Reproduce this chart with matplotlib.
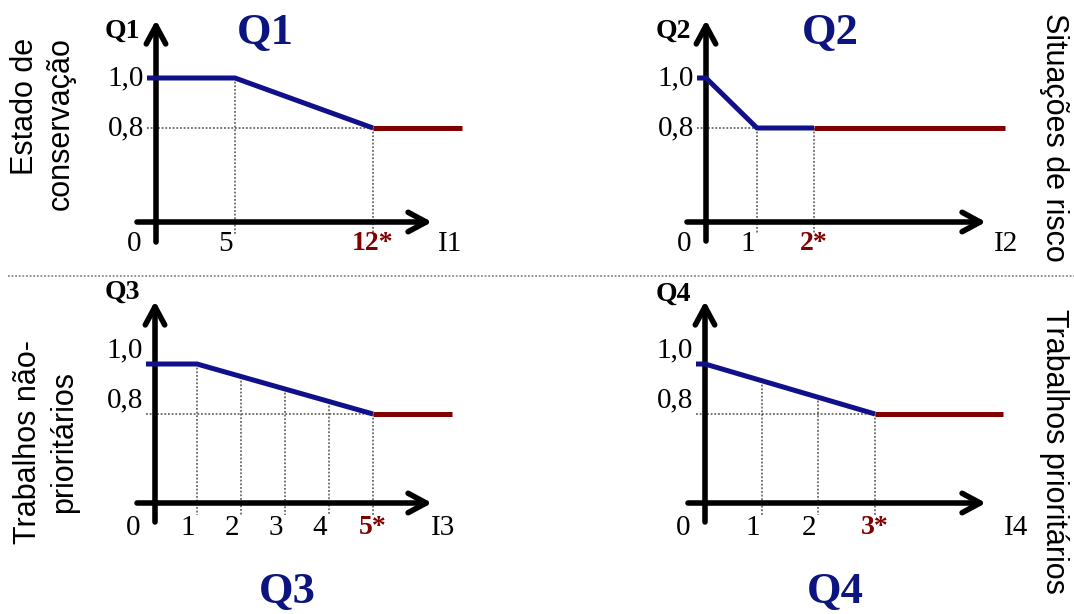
import numpy as np
import matplotlib
matplotlib.use("Agg")
import matplotlib.pyplot as plt
from matplotlib.lines import Line2D

# ---------------- data ----------------
I1_blue = [0, 5, 12]
Q1_blue = [1.0, 1.0, 0.8]
I1_red = [12, 16.5]
Q1_red = [0.8, 0.8]
I1_ticks = [5, 12]
I1_ticklabels = ["5", "12*"]

I2_blue = [0, 1, 2]
Q2_blue = [1.0, 0.8, 0.8]
I2_red = [2, 5.35]
Q2_red = [0.8, 0.8]
I2_ticks = [1, 2]
I2_ticklabels = ["1", "2*"]

I3_blue = [0, 1, 5]
Q3_blue = [1.0, 1.0, 0.8]
I3_red = [5, 6.8]
Q3_red = [0.8, 0.8]
I3_ticks = [1, 2, 3, 4, 5]
I3_ticklabels = ["1", "2", "3", "4", "5*"]

I4_blue = [0, 3]
Q4_blue = [1.0, 0.8]
I4_red = [3, 5.25]
Q4_red = [0.8, 0.8]
I4_ticks = [1, 2, 3]
I4_ticklabels = ["1", "2", "3*"]

y_ticks = [1.0, 0.8]
y_ticklabels = ["1,0", "0,8"]

panel_names = ["Q1", "Q2", "Q3", "Q4"]
x_names = ["I1", "I2", "I3", "I4"]

# ---------------- style ----------------
BLUE = "#10108a"
TITLE = "#0c1480"
RED = "#800000"
GREY = "#505050"
SERIF = ["Liberation Serif", "DejaVu Serif"]
SANS = ["Liberation Sans", "DejaVu Sans"]

W, H = 1074, 614
fig = plt.figure(figsize=(W / 100, H / 100), dpi=100)

# geometry per panel (pixels); schematic (piecewise) horizontal scale knots
geo = [
    dict(kv=[0, 5, 12], kp=[156, 235, 373], y08=128, xax=222, xl=137, xt=432,
         yt=20, yb=242, lab_y=244, ylab_dy=0, name_xy=(122, 31), xname_x=450,
         title_xy=(265, 33)),
    dict(kv=[0, 1, 2], kp=[706, 757, 814], y08=128, xax=222, xl=687, xt=986,
         yt=20, yb=241, lab_y=244, ylab_dy=0, name_xy=(673, 31), xname_x=1006,
         title_xy=(830, 33)),
    dict(kv=[0, 1, 5], kp=[155, 197, 373], y08=414, xax=503, xl=137, xt=432,
         yt=301, yb=522, lab_y=528, ylab_dy=-14, name_xy=(122, 292), xname_x=443,
         title_xy=(287, 592)),
    dict(kv=[0, 3], kp=[705, 875], y08=414, xax=503, xl=688, xt=986,
         yt=301, yb=522, lab_y=528, ylab_dy=-14, name_xy=(673, 294), xname_x=1016,
         title_xy=(835, 592)),
]

series = [
    (I1_blue, Q1_blue, I1_red, Q1_red, I1_ticks, I1_ticklabels),
    (I2_blue, Q2_blue, I2_red, Q2_red, I2_ticks, I2_ticklabels),
    (I3_blue, Q3_blue, I3_red, Q3_red, I3_ticks, I3_ticklabels),
    (I4_blue, Q4_blue, I4_red, Q4_red, I4_ticks, I4_ticklabels),
]


def make_maps(kv, kp):
    kv = np.asarray(kv, float)
    kp = np.asarray(kp, float)
    s0 = (kp[1] - kp[0]) / (kv[1] - kv[0])
    s1 = (kp[-1] - kp[-2]) / (kv[-1] - kv[-2])

    def fwd(x):
        x = np.asarray(x, float)
        y = np.interp(x, kv, kp)
        y = np.where(x < kv[0], kp[0] + (x - kv[0]) * s0, y)
        y = np.where(x > kv[-1], kp[-1] + (x - kv[-1]) * s1, y)
        return y

    def inv(p):
        p = np.asarray(p, float)
        x = np.interp(p, kp, kv)
        x = np.where(p < kp[0], kv[0] + (p - kp[0]) / s0, x)
        x = np.where(p > kp[-1], kv[-1] + (p - kp[-1]) / s1, x)
        return x

    return fwd, inv


for k, (g, s) in enumerate(zip(geo, series)):
    xb, yb_, xr, yr, ticks, tlabels = s
    y08 = g["y08"]
    fwd, inv = make_maps(g["kv"], g["kp"])
    X = lambda px: float(inv(px))
    Y = lambda py: 0.8 - (py - y08) / 250.0
    x0 = float(fwd(0))

    ax = fig.add_axes([0, 0, 1, 1])
    ax.set_xscale("function", functions=(fwd, inv))
    ax.set_xlim(X(0), X(W))
    ax.set_ylim(Y(H), Y(0))
    ax.axis("off")
    ax.patch.set_alpha(0)

    # full curve for dotted guides
    cx = list(xb) + list(xr[1:])
    cy = list(yb_) + list(yr[1:])
    start_x = X(x0 - 9)

    # dotted guides
    knee = xb[-1]
    ax.plot([start_x, knee], [0.8, 0.8], color=GREY, lw=1.1,
            linestyle=(0, (1.2, 1.2)), zorder=1)
    ybot = Y(g["xax"] + 12)
    for t in ticks:
        ytop = float(np.interp(t, cx, cy))
        ax.plot([t, t], [ytop, ybot], color=GREY, lw=1.1,
                linestyle=(0, (1.2, 1.2)), zorder=1)

    # axes arrows
    arrow = dict(arrowstyle="->,head_length=1.3,head_width=0.7", lw=4.0,
                 color="black", shrinkA=0, shrinkB=0)
    ax.annotate("", xy=(X(g["xt"]), Y(g["xax"])), xytext=(X(g["xl"]), Y(g["xax"])),
                arrowprops=arrow, zorder=2)
    ax.annotate("", xy=(0, Y(g["yt"])), xytext=(0, Y(g["yb"])),
                arrowprops=arrow, zorder=2)

    # curves
    ax.plot([start_x] + list(xb), [yb_[0]] + list(yb_), color=BLUE, lw=3.6,
            solid_capstyle="butt", solid_joinstyle="round", zorder=4)
    ax.plot(xr, yr, color=RED, lw=3.6, solid_capstyle="butt", zorder=3)

    # y tick labels (bottom panels: drawn slightly above their guide lines)
    for v, lab in zip(y_ticks, y_ticklabels):
        ax.text(X(x0 - 12), v - g["ylab_dy"] / 250.0, lab, ha="right",
                va="center", fontsize=21, family=SERIF)

    # x tick labels
    ly = Y(g["lab_y"])
    ax.text(X(x0 - 22), ly, "0", ha="center", va="center", fontsize=21, family=SERIF)
    for t, lab in zip(ticks, tlabels):
        if lab.endswith("*"):
            ax.text(t, ly, lab, ha="center", va="center", fontsize=20,
                    family=SERIF, color=RED, fontweight="bold")
        else:
            ax.text(X(float(fwd(t)) - 9), ly, lab, ha="center", va="center",
                    fontsize=21, family=SERIF)
    ax.text(X(g["xname_x"]), ly, x_names[k], ha="center", va="center",
            fontsize=21, family=SERIF)

    # axis name
    nx, ny = g["name_xy"]
    ax.text(X(nx), Y(ny), panel_names[k], ha="center", va="center", fontsize=20,
            family=SERIF, fontweight="bold")
    # big title
    tx, ty = g["title_xy"]
    ax.text(X(tx), Y(ty), panel_names[k], ha="center", va="center", fontsize=32,
            family=SERIF, fontweight="bold", color=TITLE)

# separator
fig.add_artist(Line2D([8 / W, 1.0], [1 - 276 / H, 1 - 276 / H], color="#888888",
                      lw=1.3, linestyle=(0, (1, 1))))

# side labels
fig.text(43 / W, 1 - 124 / H, "Estado de\nconservação", rotation=90, ha="center",
         va="center", multialignment="right", fontsize=22, family=SANS,
         linespacing=1.25)
fig.text(46 / W, 1 - 442 / H, "Trabalhos não-\nprioritários", rotation=90,
         ha="center", va="center", multialignment="center", fontsize=22,
         family=SANS, linespacing=1.3)
fig.text(1054 / W, 1 - 137 / H, "Situações de risco", rotation=-90, ha="center",
         va="center", fontsize=22, family=SANS)
fig.text(1054 / W, 1 - 451 / H, "Trabalhos prioritários", rotation=-90,
         ha="center", va="center", fontsize=22, family=SANS)

fig.savefig("out.png", dpi=100, facecolor="white")
